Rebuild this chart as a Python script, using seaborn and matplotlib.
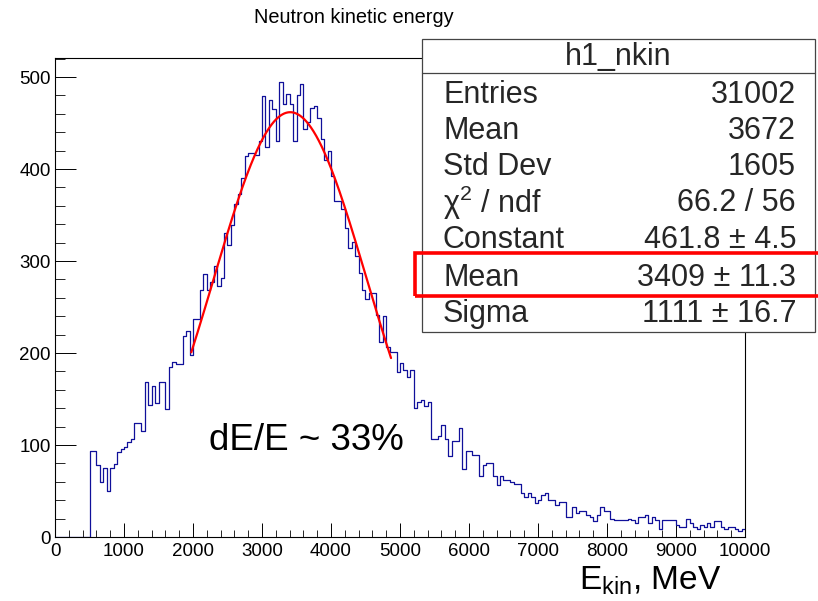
import numpy as np
import pandas as pd
import matplotlib
matplotlib.use("Agg")
import matplotlib.pyplot as plt
from matplotlib.patches import Rectangle
from matplotlib.lines import Line2D
from matplotlib.ticker import MultipleLocator
import seaborn as sns

# ---------------- data ----------------
bin_width = 50
bin_lo = np.arange(0, 10000, bin_width)          # left edges of 200 bins
counts = [
    0, 0, 0, 0, 0, 0, 0, 0, 0, 0,
    93, 93, 78, 60, 75, 50, 75, 79, 92, 96,
    98, 103, 106, 124, 124, 115, 169, 144, 164, 146,
    168, 168, 139, 185, 190, 188, 188, 218, 224, 198,
    237, 237, 269, 286, 269, 277, 295, 273, 282, 330,
    317, 339, 362, 373, 390, 414, 417, 417, 415, 431,
    479, 424, 475, 465, 430, 495, 471, 482, 471, 431,
    480, 492, 443, 451, 466, 468, 455, 433, 410, 420,
    392, 365, 365, 357, 336, 314, 321, 305, 287, 268,
    259, 265, 265, 241, 212, 240, 206, 201, 201, 179,
    189, 181, 174, 181, 140, 147, 149, 142, 147, 107,
    107, 110, 122, 107, 88, 104, 104, 118, 74, 93,
    93, 89, 89, 66, 78, 80, 80, 66, 56, 66,
    62, 62, 60, 58, 58, 48, 44, 48, 44, 37,
    40, 46, 48, 40, 40, 35, 38, 38, 22, 22,
    33, 26, 28, 28, 24, 22, 17, 24, 33, 28,
    28, 20, 18, 18, 18, 18, 20, 18, 15, 22,
    22, 24, 15, 22, 18, 9, 18, 18, 18, 18,
    13, 11, 11, 20, 15, 11, 9, 13, 11, 15,
    11, 17, 17, 11, 9, 11, 11, 9, 7, 9,
]
fit_const, fit_mean, fit_sigma = 461.8, 3409.0, 1111.0
fit_range = [1975, 4870]

title = "Neutron kinetic energy"
stats_name = "h1_nkin"
stats_labels = ["Entries", "Mean", "Std Dev", "χ$^{2}$ / ndf", "Constant", "Mean", "Sigma"]
stats_values = ["31002", "3672", "1605", "66.2 / 56", "461.8 ± 4.5", "3409 ± 11.3", "1111 ± 16.7"]
annotation = "dE/E ~ 33%"
x_title = "E$_{\\mathregular{kin}}$, MeV"

# ---------------- style ----------------
sns.set_theme(style="white")
plt.rcParams["font.family"] = ["Liberation Sans", "DejaVu Sans"]
plt.rcParams["mathtext.fontset"] = "custom"
plt.rcParams["mathtext.rm"] = "Liberation Sans"
plt.rcParams["mathtext.it"] = "Liberation Sans:italic"
plt.rcParams["mathtext.bf"] = "Liberation Sans:bold"

W, H = 818, 601
fig = plt.figure(figsize=(W / 100, H / 100), dpi=100)
fig.patch.set_facecolor("white")


def fx(x):
    return x / W


def fy(y):
    return 1 - y / H


ax = fig.add_axes([fx(55), fy(537), fx(745) - fx(55), fy(58) - fy(537)])

df = pd.DataFrame({"E": bin_lo + bin_width / 2, "n": counts})
sns.histplot(data=df, x="E", weights="n", binwidth=bin_width, binrange=(0, 10000),
             element="step", fill=False, color="#10109a", linewidth=0.9, ax=ax)

xs = np.linspace(fit_range[0], fit_range[1], 300)
gauss = fit_const * np.exp(-0.5 * ((xs - fit_mean) / fit_sigma) ** 2)
sns.lineplot(x=xs, y=gauss, color="#ff0000", linewidth=1.6, ax=ax)

ax.set_xlim(0, 10000)
ax.set_ylim(0, 520.7)
ax.set_xlabel("")
ax.set_ylabel("")
ax.xaxis.set_major_locator(MultipleLocator(1000))
ax.xaxis.set_minor_locator(MultipleLocator(200))
ax.yaxis.set_major_locator(MultipleLocator(100))
ax.yaxis.set_minor_locator(MultipleLocator(20))
ax.tick_params(axis="x", which="major", direction="in", length=10.4, width=0.7,
               bottom=True, top=False, labelsize=13.5, pad=4, colors="black")
ax.tick_params(axis="x", which="minor", direction="in", length=5.2, width=0.7,
               bottom=True, top=False)
ax.tick_params(axis="y", which="major", direction="in", length=14.9, width=0.7,
               left=True, right=False, labelsize=13.5, pad=3, colors="black")
ax.tick_params(axis="y", which="minor", direction="in", length=7.45, width=0.7,
               left=True, right=False)
for s in ax.spines.values():
    s.set_color("black")
    s.set_linewidth(0.8)
ax.grid(False)

# title
fig.text(fx(354), fy(17.5), title, ha="center", va="center", fontsize=14.4, color="black")

# annotation
fig.text(fx(306), fy(440), annotation, ha="center", va="center", fontsize=26.5, color="black")

# x-axis title
fig.text(fx(721), fy(590), x_title, ha="right", va="baseline", fontsize=24, color="black")

# stats box
box = Rectangle((fx(422), fy(332)), fx(815) - fx(422), fy(39) - fy(332),
                transform=fig.transFigure, facecolor="white", edgecolor="#444444",
                linewidth=0.9, zorder=5)
fig.add_artist(box)
fig.add_artist(Line2D([fx(422), fx(815)], [fy(73), fy(73)], transform=fig.transFigure,
                      color="#444444", linewidth=0.9, zorder=6))
fig.text(fx(618), fy(57), stats_name, ha="center", va="center", fontsize=22, zorder=7)
row_y = [95, 131, 167, 203, 240, 278, 314]
for lab, val, yy in zip(stats_labels, stats_values, row_y):
    fig.text(fx(443), fy(yy), lab, ha="left", va="center", fontsize=22, zorder=7)
    fig.text(fx(796), fy(yy), val, ha="right", va="center", fontsize=22, zorder=7)

# red highlight rectangle
hl = Rectangle((fx(415), fy(296)), fx(830) - fx(415), fy(253) - fy(296),
               transform=fig.transFigure, facecolor="none", edgecolor="#ff0000",
               linewidth=2.6, zorder=8, clip_on=False)
fig.add_artist(hl)

fig.savefig("out.png", dpi=100, facecolor="white")
